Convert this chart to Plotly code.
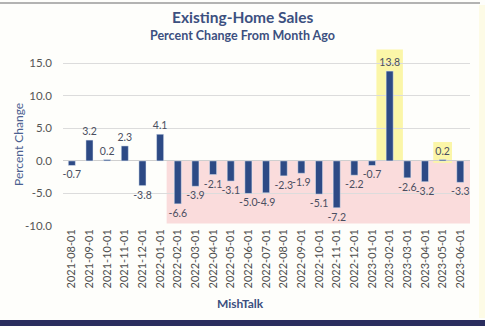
import plotly.graph_objects as go

# Monthly percent change in existing-home sales
months = [
    "2021-08-01", "2021-09-01", "2021-10-01", "2021-11-01", "2021-12-01",
    "2022-01-01", "2022-02-01", "2022-03-01", "2022-04-01", "2022-05-01",
    "2022-06-01", "2022-07-01", "2022-08-01", "2022-09-01", "2022-10-01",
    "2022-11-01", "2022-12-01", "2023-01-01", "2023-02-01", "2023-03-01",
    "2023-04-01", "2023-05-01", "2023-06-01",
]
pct_change = [
    -0.7, 3.2, 0.2, 2.3, -3.8, 4.1, -6.6, -3.9, -2.1, -3.1, -5.0, -4.9,
    -2.3, -1.9, -5.1, -7.2, -2.2, -0.7, 13.8, -2.6, -3.2, 0.2, -3.3,
]
y_ticks = [-10, -5, 0, 5, 10, 15]

W, H = 485, 328
L, R, T, B = 63, 15, 47, 102
Y_MIN, Y_MAX = -10, 17.5

NAVY = "#2D4A85"
TEXT = "#3C5080"


def px_to_paper_x(px):
    return (px - L) / (W - L - R)


def px_to_paper_y(py):
    return (H - B - py) / (H - T - B)


fig = go.Figure()
fig.add_trace(go.Bar(
    x=months,
    y=pct_change,
    marker_color=NAVY,
    text=[f"{v:.1f}" for v in pct_change],
    textposition="outside",
    constraintext="none",
    textfont=dict(size=10.5, color="#4A4E60", family="Lato"),
    cliponaxis=False,
))

shapes = []
# contraction zone from 2022-02 onward
shapes.append(dict(type="rect", xref="x", yref="y", x0=5.37, x1=22.55,
                   y0=-9.6, y1=0, fillcolor="#FADCDC", line_width=0,
                   layer="below"))
# highlights for the two positive months of 2023
shapes.append(dict(type="rect", xref="x", yref="y", x0=17.25, x1=18.75,
                   y0=0, y1=17.1, fillcolor="#FBF6A8", line_width=0,
                   layer="below"))
shapes.append(dict(type="rect", xref="x", yref="y", x0=20.47, x1=21.53,
                   y0=-0.3, y1=2.9, fillcolor="#FBF6A8", line_width=0,
                   layer="below"))
# frame decorations
shapes.append(dict(type="line", xref="paper", yref="paper",
                   x0=px_to_paper_x(0), x1=px_to_paper_x(480),
                   y0=px_to_paper_y(3), y1=px_to_paper_y(3),
                   line=dict(color="#9A9A9A", width=1.5)))
shapes.append(dict(type="rect", xref="paper", yref="paper",
                   x0=px_to_paper_x(479), x1=px_to_paper_x(485),
                   y0=px_to_paper_y(5), y1=px_to_paper_y(318),
                   fillcolor="#FDFBE6", line_width=0, layer="below"))
shapes.append(dict(type="rect", xref="paper", yref="paper",
                   x0=px_to_paper_x(0), x1=px_to_paper_x(485),
                   y0=px_to_paper_y(320), y1=px_to_paper_y(326),
                   fillcolor="#2A2D5E", line_width=0))

annotations = [
    dict(text="<b>Existing-Home Sales</b>", xref="paper", yref="paper",
         x=px_to_paper_x(242), y=px_to_paper_y(17), showarrow=False,
         font=dict(size=15.5, color=TEXT, family="Lato"),
         xanchor="center", yanchor="middle"),
    dict(text="<b>Percent Change From Month Ago</b>", xref="paper",
         yref="paper", x=px_to_paper_x(242), y=px_to_paper_y(35),
         showarrow=False, font=dict(size=12.5, color=TEXT, family="Lato"),
         xanchor="center", yanchor="middle"),
    dict(text="Percent Change", xref="paper", yref="paper",
         x=px_to_paper_x(18), y=px_to_paper_y(145), showarrow=False,
         textangle=-90, font=dict(size=12, color="#4A6090", family="Lato"),
         xanchor="center", yanchor="middle"),
    dict(text="<b>MishTalk</b>", xref="paper", yref="paper",
         x=px_to_paper_x(240), y=px_to_paper_y(303), showarrow=False,
         font=dict(size=12, color=TEXT, family="Lato"),
         xanchor="center", yanchor="middle"),
]

fig.update_layout(
    width=W, height=H,
    margin=dict(l=L, r=R, t=T, b=B, pad=0),
    paper_bgcolor="#FEFEFB",
    plot_bgcolor="rgba(0,0,0,0)",
    showlegend=False,
    bargap=0.6,
    shapes=shapes,
    annotations=annotations,
    font=dict(family="Lato"),
)
fig.update_xaxes(
    type="category",
    tickangle=-90,
    tickfont=dict(size=11, color="#4E4E4E", family="Lato"),
    showgrid=False,
    showline=False,
    ticks="",
)
fig.update_yaxes(
    range=[Y_MIN, Y_MAX],
    tickvals=y_ticks,
    ticktext=[f"{v:.1f}" for v in y_ticks],
    tickfont=dict(size=11.5, color="#555555", family="Lato"),
    gridcolor="#DCDCDC",
    gridwidth=1,
    zeroline=True,
    zerolinecolor="#CFCFCF",
    zerolinewidth=1,
    ticks="",
    ticklabelstandoff=10,
)

fig.write_html("out.html")
